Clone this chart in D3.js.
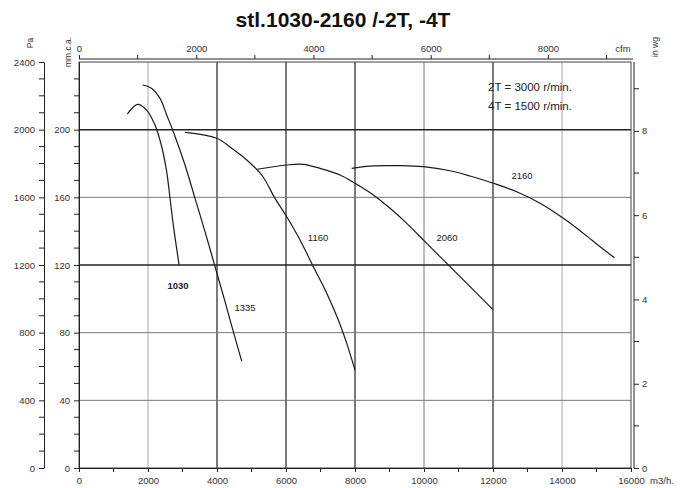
<!DOCTYPE html>
<html><head><meta charset="utf-8">
<script src="https://cdn.jsdelivr.net/npm/d3@7"></script>
<style>
html,body{margin:0;padding:0;background:#fff;}
svg{display:block;font-family:"Liberation Sans",Arial,sans-serif;}
</style></head>
<body><svg id="c" width="690" height="488"></svg>
<script>
// ---- data (flow in m3/h, pressure in Pa) ----
const title = "stl.1030-2160 /-2T, -4T";
const legendLines = ["2T = 3000 r/min.", "4T = 1500 r/min."];
const flowTicks = [0,2000,4000,6000,8000,10000,12000,14000,16000];
const paTicks = [0,400,800,1200,1600,2000,2400];
const mmcaTicks = [0,40,80,120,160,200];
const inwgTicks = [0,2,4,6,8];
const cfmTicks = [0,2000,4000,6000,8000];

const q1030 = [1400,1700,1962,2203,2397,2542,2638,2734,2899];
const p1030 = [2092,2150,2116,2027,1899,1751,1596,1436,1204];
const q1335 = [1846,2107,2348,2542,2734,3073,3363,3653,3943,4233,4473,4716];
const p1335 = [2264,2244,2185,2087,1988,1791,1594,1397,1190,983,806,632];
const q1160 = [3073,3992,4426,4862,5296,5682,6021,6407,6793,7180,7517,7760,8001];
const p1160 = [1984,1949,1890,1821,1732,1594,1485,1348,1190,1033,875,737,579];
const q2060 = [5169,6021,6503,6987,7566,8001,8532,9016,9500,10030,10755,11335,11993];
const p2060 = [1766,1791,1795,1771,1732,1683,1614,1535,1446,1338,1190,1072,938];
const q2160 = [7905,8436,9306,9981,10755,11335,12011,12688,13364,14040,14620,15104,15519];
const p2160 = [1771,1785,1787,1781,1757,1726,1683,1633,1565,1476,1387,1308,1243];

const curveNames = ["1030","1335","1160","2060","2160"];
const curveFlows = [q1030,q1335,q1160,q2060,q2160];
const curvePress = [p1030,p1335,p1160,p2060,p2160];
const labelFlow = [2870,4812,6929,10668,12843];
const labelPress = [1076,946,1360,1360,1726];

// ---- layout ----
const svg = d3.select("#c");
const L=79, R=631, T=62, B=468;
const x = d3.scaleLinear().domain([0,16000]).range([L,R]);
const y = d3.scaleLinear().domain([0,2400]).range([B,T]);
const yMm = d3.scaleLinear().domain([0,240]).range([B,T]);
const yIn = d3.scaleLinear().domain([0,2400/249.09]).range([B,T]);
const xCfm = d3.scaleLinear().domain([0,16000/1.699]).range([L,R]);

const txt = "#333";
const fs = "9.5px";

// gridlines
const vGridColor = {2000:"#aaa",4000:"#333",6000:"#333",8000:"#333",10000:"#777",12000:"#333",14000:"#aaa"};
svg.append("g").selectAll("line").data(flowTicks.filter(d=>d>0&&d<16000)).join("line")
  .attr("x1",d=>x(d)).attr("x2",d=>x(d)).attr("y1",T).attr("y2",B)
  .attr("stroke",d=>vGridColor[d]).attr("stroke-width",d=>vGridColor[d]==="#333"?1.3:1);
const hGridStrong = {200:true,120:true};
svg.append("g").selectAll("line").data(mmcaTicks.filter(d=>d>0)).join("line")
  .attr("x1",L).attr("x2",R).attr("y1",d=>yMm(d)).attr("y2",d=>yMm(d))
  .attr("stroke",d=>hGridStrong[d]?"#222":"#777").attr("stroke-width",d=>hGridStrong[d]?1.5:1);

// plot frame
svg.append("rect").attr("x",L).attr("y",T).attr("width",R-L).attr("height",B-T)
  .attr("fill","none").attr("stroke","#444").attr("stroke-width",1);

function styleAxis(g){
  g.selectAll("path.domain").attr("stroke","#222");
  g.selectAll(".tick line").attr("stroke","#222");
  g.selectAll("text").attr("fill",txt).style("font-size",fs).style("font-family","'Liberation Sans',Arial,sans-serif");
}

// bottom axis m3/h
const gB = svg.append("g").attr("transform",`translate(0,${B})`)
  .call(d3.axisBottom(x).tickValues(flowTicks).tickSize(4).tickSizeOuter(0).tickFormat(d3.format("d")));
styleAxis(gB); gB.selectAll("text").attr("dy","0.9em");
svg.append("g").selectAll("line").data(d3.range(1000,16000,2000)).join("line")
  .attr("x1",d=>x(d)).attr("x2",d=>x(d)).attr("y1",B).attr("y2",B+4).attr("stroke","#222");
svg.append("text").attr("x",662).attr("y",484).attr("text-anchor","middle").attr("fill",txt).style("font-size",fs).text("m3/h.");

// top axis cfm
const TA = 59;
const gT = svg.append("g").attr("transform",`translate(0,${TA})`)
  .call(d3.axisTop(xCfm).tickValues(cfmTicks).tickSize(4).tickSizeOuter(0).tickFormat(d3.format("d")));
gT.select("path.domain").attr("d",`M${L},0H${R+2}`);
styleAxis(gT);
svg.append("g").selectAll("line").data(d3.range(1000,10000,2000)).join("line")
  .attr("x1",d=>xCfm(d)).attr("x2",d=>xCfm(d)).attr("y1",TA).attr("y2",TA-4).attr("stroke","#222");
svg.append("text").attr("x",623).attr("y",52).attr("text-anchor","middle").attr("fill",txt).style("font-size",fs).text("cfm");

// left Pa axis
const PA = 44;
const gP = svg.append("g").attr("transform",`translate(${PA},0)`)
  .call(d3.axisLeft(y).tickValues(paTicks).tickSize(5).tickSizeOuter(0).tickFormat(d3.format("d")));
styleAxis(gP); gP.selectAll("text").attr("x",-9);
svg.append("g").selectAll("line").data(d3.range(100,2400,100).filter(d=>d%400!==0)).join("line")
  .attr("x1",PA).attr("x2",PA-5).attr("y1",d=>y(d)).attr("y2",d=>y(d)).attr("stroke","#222");
svg.append("text").attr("transform",`translate(33,43) rotate(-90)`).attr("text-anchor","middle")
  .attr("fill",txt).style("font-size","8.5px").text("Pa");

// mm.c.a. axis
const gM = svg.append("g").attr("transform",`translate(${L},0)`)
  .call(d3.axisLeft(yMm).tickValues(mmcaTicks).tickSize(5).tickSizeOuter(0).tickFormat(d3.format("d")));
styleAxis(gM); gM.selectAll("text").attr("x",-9);
svg.append("g").selectAll("line").data(d3.range(10,240,10).filter(d=>d%40!==0)).join("line")
  .attr("x1",L).attr("x2",L-5).attr("y1",d=>yMm(d)).attr("y2",d=>yMm(d)).attr("stroke","#222");
svg.append("text").attr("transform",`translate(71,52) rotate(-90)`).attr("text-anchor","middle")
  .attr("fill",txt).style("font-size","8.5px").text("mm.c.a.");

// right in wg axis
const RA = 634;
const gR = svg.append("g").attr("transform",`translate(${RA},0)`)
  .call(d3.axisRight(yIn).tickValues(inwgTicks).tickSize(5).tickSizeOuter(0).tickFormat(d3.format("d")));
gR.select("path.domain").attr("d",`M0,${T}V${B}`);
styleAxis(gR);
svg.append("g").selectAll("line").data([1,3,5,7,9]).join("line")
  .attr("x1",RA).attr("x2",RA+5).attr("y1",d=>yIn(d)).attr("y2",d=>yIn(d)).attr("stroke","#222");
svg.append("text").attr("transform",`translate(658,47) rotate(-90)`).attr("text-anchor","middle")
  .attr("fill",txt).style("font-size","8.5px").text("in wg");

// curves
const line = d3.line().x(d=>x(d[0])).y(d=>y(d[1])).curve(d3.curveCatmullRom.alpha(0.5));
curveNames.forEach((n,i)=>{
  const pts = curveFlows[i].map((q,j)=>[q,curvePress[i][j]]);
  svg.append("path").attr("d",line(pts)).attr("fill","none").attr("stroke","#1a1a1a").attr("stroke-width",1.2);
  svg.append("text").attr("x",x(labelFlow[i])).attr("y",y(labelPress[i])).attr("dy","0.35em")
    .attr("text-anchor","middle").attr("fill","#222").style("font-size","9.5px")
    .style("font-weight",n==="1030"?"bold":"normal").text(n);
});

// legend text
legendLines.forEach((t,i)=>{
  svg.append("text").attr("x",530).attr("y",91+i*19).attr("text-anchor","middle")
    .attr("fill","#222").style("font-size","11.5px").text(t);
});

// title
svg.append("text").attr("x",343).attr("y",27).attr("text-anchor","middle")
  .attr("fill","#111").style("font-size","21px").style("font-weight","bold").text(title);
</script>
</body></html>
